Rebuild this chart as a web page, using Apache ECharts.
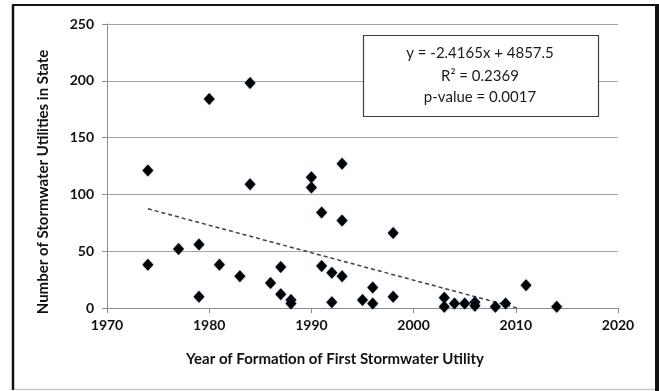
<!DOCTYPE html>
<html>
<head>
<meta charset="utf-8">
<script src="https://cdn.jsdelivr.net/npm/echarts@6/dist/echarts.min.js"></script>
<style>
  html, body { margin: 0; padding: 0; background: #fff; }
  #chart { width: 659px; height: 391px; }
</style>
</head>
<body>
<div id="chart"></div>
<script>
// year of first stormwater utility, number of utilities in state
const years = [1974, 1974, 1977, 1979, 1979, 1980, 1981, 1983, 1984, 1984,
  1986, 1987, 1987, 1988, 1988, 1990, 1990, 1991, 1991, 1992,
  1992, 1993, 1993, 1993, 1995, 1996, 1996, 1998, 1998, 2003,
  2003, 2004, 2005, 2006, 2006, 2008, 2009, 2011, 2014];
const counts = [121, 38, 52, 56, 10, 184, 38, 28, 198, 109,
  22, 36, 12, 7, 4, 115, 106, 84, 37, 31,
  5, 127, 77, 28, 7, 18, 4, 66, 10, 9,
  1, 4, 4, 5, 2, 1, 4, 20, 1];

// linear trend (from the fitted equation)
const slope = -2.4165;
const intercept = 4857.5;
const trendStart = 1974;
const trendEnd = -intercept / slope; // where it reaches 0

const xTicks = [1970, 2020, 10];
const yTicks = [0, 250, 50];

const chart = echarts.init(document.getElementById("chart"));
const font = "Lato, 'Open Sans', sans-serif";

const option = {
  animation: false,
  grid: { left: 107, right: 41, top: 24, bottom: 83 },
  xAxis: {
    type: "value",
    min: xTicks[0],
    max: xTicks[1],
    interval: xTicks[2],
    splitLine: { show: false },
    axisLine: { lineStyle: { color: "#8c8c8c", width: 1 } },
    axisTick: { show: true, length: 5, lineStyle: { color: "#8c8c8c" } },
    axisLabel: {
      margin: 10, color: "#111", fontFamily: font, fontWeight: "bold", fontSize: 14,
      formatter: (v) => String(v)
    }
  },
  yAxis: {
    type: "value",
    min: yTicks[0],
    max: yTicks[1],
    interval: yTicks[2],
    splitLine: { lineStyle: { color: "#a6a6a6", width: 1 } },
    axisLine: { show: true, lineStyle: { color: "#8c8c8c", width: 1 } },
    axisTick: { show: true, length: 5, lineStyle: { color: "#8c8c8c" } },
    axisLabel: { margin: 13, color: "#111", fontFamily: font, fontWeight: "bold", fontSize: 14 }
  },
  series: [
    {
      type: "line",
      data: [
        [trendStart, slope * trendStart + intercept],
        [trendEnd, 0]
      ],
      symbol: "none",
      lineStyle: { color: "#404040", width: 1.5, type: [4, 3] },
      z: 2
    },
    {
      type: "scatter",
      data: years.map((y, i) => [y, counts[i]]),
      symbol: "diamond",
      symbolSize: [11, 12],
      itemStyle: {
        color: "#000",
        opacity: 1,
        shadowColor: "rgba(70,130,210,0.7)",
        shadowBlur: 2
      },
      z: 3
    }
  ],
  graphic: [
    // outer frame
    { type: "line", z: 50, shape: { x1: 13, y1: 5, x2: 13, y2: 390 }, style: { stroke: "#111", lineWidth: 2.5 } },
    { type: "line", z: 50, shape: { x1: 12, y1: 5, x2: 659, y2: 5 }, style: { stroke: "#111", lineWidth: 2 } },
    { type: "line", z: 50, shape: { x1: 657, y1: 4, x2: 657, y2: 391 }, style: { stroke: "#111", lineWidth: 4 } },
    { type: "line", z: 50, shape: { x1: 14, y1: 389.5, x2: 655, y2: 389.5 }, style: { stroke: "#c8c8c8", lineWidth: 1.5 } },
    // axis titles
    {
      type: "text",
      x: 335, y: 359,
      style: {
        text: "Year of Formation of First Stormwater Utility",
        font: "bold 15px " + font,
        fill: "#111",
        align: "center",
        verticalAlign: "middle"
      }
    },
    {
      type: "text",
      x: 43, y: 182,
      rotation: Math.PI / 2,
      style: {
        text: "Number of Stormwater Utilities in State",
        font: "bold 15px " + font,
        fill: "#111",
        align: "center",
        verticalAlign: "middle"
      }
    },
    // equation box
    {
      type: "rect", z: 100,
      shape: { x: 363.5, y: 35.5, width: 235, height: 81 },
      style: { fill: "#fff", stroke: "#404040", lineWidth: 1.2 }
    },
    {
      type: "text", z: 101, x: 480, y: 53,
      style: { text: "y = -2.4165x + 4857.5", font: "15px " + font, fill: "#1a1a1a", align: "center", verticalAlign: "middle" }
    },
    {
      type: "text", z: 101, x: 480, y: 76,
      style: { text: "R² = 0.2369", font: "15px " + font, fill: "#1a1a1a", align: "center", verticalAlign: "middle" }
    },
    {
      type: "text", z: 101, x: 480, y: 97,
      style: { text: "p-value = 0.0017", font: "15px " + font, fill: "#1a1a1a", align: "center", verticalAlign: "middle" }
    }
  ]
};

chart.setOption(option);
</script>
</body>
</html>
